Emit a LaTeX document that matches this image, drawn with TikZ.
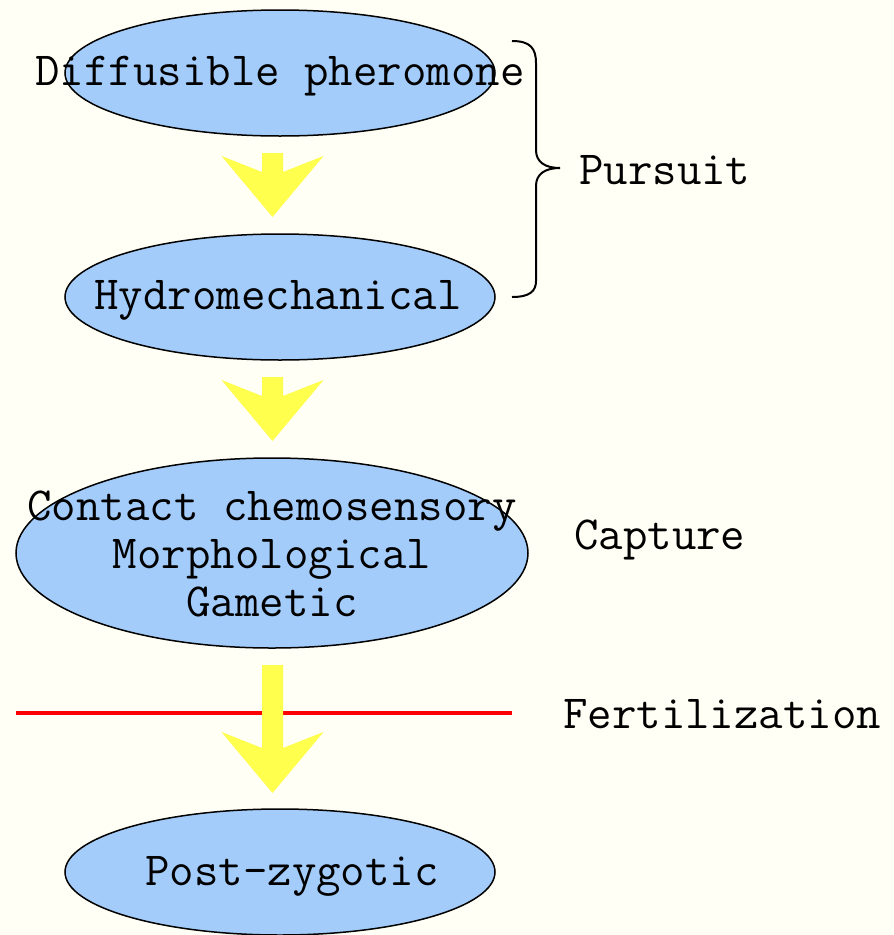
\documentclass[tikz,border=0pt]{standalone}
\usepackage{fontspec}
\usetikzlibrary{shapes.geometric}
\definecolor{bgc}{RGB}{255,255,246}
\definecolor{ellblue}{RGB}{163,204,250}
\definecolor{arryel}{RGB}{255,255,77}
\definecolor{fertred}{RGB}{255,0,0}
\tikzset{
  ell/.style={draw=black, line width=1.5pt, fill=ellblue},
  txt/.style={inner sep=0pt, align=center, font=\ttfamily\fontsize{47.5}{48}\selectfont},
  lbl/.style={anchor=west, inner sep=0pt, font=\ttfamily\fontsize{47.5}{48}\selectfont},
  yarrowstyle/.style={fill=arryel, draw=none},
  bracestyle/.style={draw=black, line width=2pt},
  redline/.style={draw=fertred, line width=4pt}
}
% x, top of shaft, head corners, notch, tip
\newcommand\myyarrow[5]{%
  \fill[yarrowstyle] ({#1-10.5},#2) -- ({#1+10.5},#2) -- ({#1+10.5},#4) -- ({#1+51},#3) -- (#1,#5) -- ({#1-51},#3) -- ({#1-10.5},#4) -- cycle;}
\begin{document}
\begin{tikzpicture}[x=1pt,y=-1pt]
\fill[bgc] (0,0) rectangle (894,935);
\useasboundingbox (0,0) rectangle (894,935);

\coordinate (c1) at (280,73);
\coordinate (c2) at (280,297);
\coordinate (c3) at (272,553);
\coordinate (c4) at (280,872);
\draw[ell] (c1) ellipse [x radius=215, y radius=63];
\draw[ell] (c2) ellipse [x radius=215, y radius=63];
\draw[ell] (c3) ellipse [x radius=256, y radius=95];
\draw[ell] (c4) ellipse [x radius=215, y radius=63];

\node[txt] (t1) at (280,76) {Diffusible pheromone};
\node[txt] (t2) at (278,300) {Hydromechanical};
\node[txt] (t3) at (272,554) {Contact chemosensory\\Morphological\\Gametic};
\node[txt] (t4) at (292,876) {Post-zygotic};

\coordinate (f1) at (16,713);
\coordinate (f2) at (512,713);
\draw[redline] (f1) -- (f2);

\myyarrow{272.5}{153}{156}{172}{217}
\myyarrow{272.5}{377}{380}{396}{441}
\myyarrow{272.5}{665}{732}{748}{793}

\coordinate (b1) at (512,41);
\coordinate (bt) at (560,168);
\coordinate (b2) at (512,297);
\draw[bracestyle] (b1) .. controls (530,41) and (536,48) .. (536,63) -- (536,150)
  .. controls (536,162) and (545,168) .. (bt)
  .. controls (545,168) and (536,174) .. (536,186) -- (536,281)
  .. controls (536,291) and (530,297) .. (b2);

\node[lbl] (pursuit) at (579,170) {Pursuit};
\node[lbl] (capture) at (574,540) {Capture};
\node[lbl] (fert) at (563,714) {Fertilization};
\end{tikzpicture}
\end{document}
